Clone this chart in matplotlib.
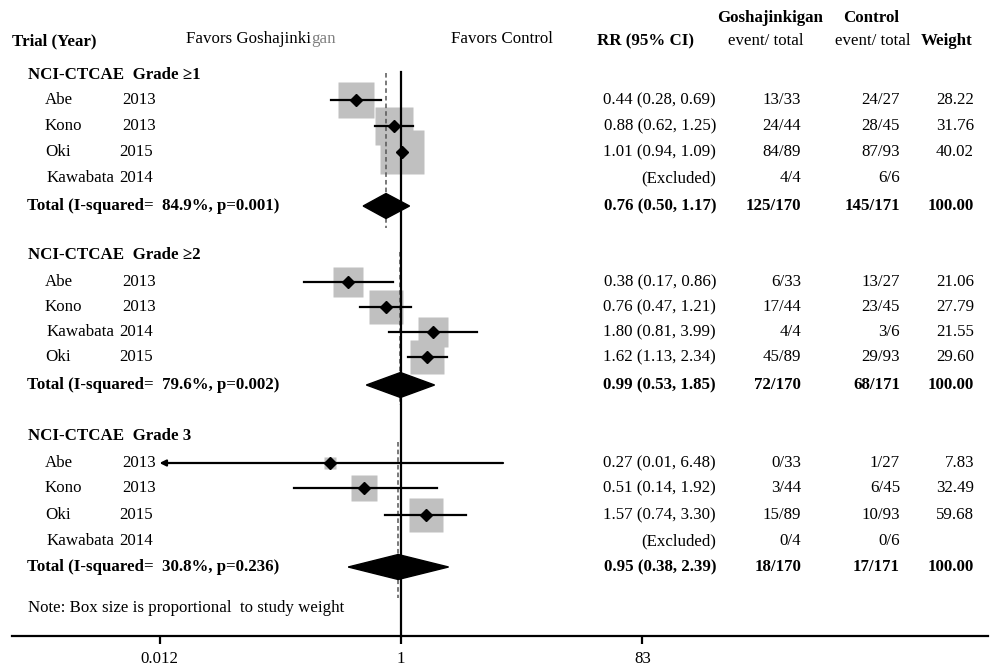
import numpy as np
import matplotlib
matplotlib.use("Agg")
import matplotlib.pyplot as plt
from matplotlib.patches import Polygon
from matplotlib.ticker import FixedLocator, NullLocator, FixedFormatter
from matplotlib.transforms import blended_transform_factory

plt.rcParams['font.family'] = ['Liberation Serif', 'DejaVu Serif']

# ---------------- data ----------------
group_titles = ['NCI-CTCAE  Grade \u22651', 'NCI-CTCAE  Grade \u22652', 'NCI-CTCAE  Grade 3']

g1_names = ['Abe', 'Kono', 'Oki', 'Kawabata']
g1_years = ['2013', '2013', '2015', '2014']
g1_rr = [0.44, 0.88, 1.01, np.nan]
g1_lo = [0.28, 0.62, 0.94, np.nan]
g1_hi = [0.69, 1.25, 1.09, np.nan]
g1_gosha = ['13/33', '24/44', '84/89', '4/4']
g1_ctrl = ['24/27', '28/45', '87/93', '6/6']
g1_weight = [28.22, 31.76, 40.02, np.nan]
g1_total = [0.76, 0.50, 1.17]
g1_total_counts = ['125/170', '145/171']
g1_het = ['84.9%', '0.001']

g2_names = ['Abe', 'Kono', 'Kawabata', 'Oki']
g2_years = ['2013', '2013', '2014', '2015']
g2_rr = [0.38, 0.76, 1.80, 1.62]
g2_lo = [0.17, 0.47, 0.81, 1.13]
g2_hi = [0.86, 1.21, 3.99, 2.34]
g2_gosha = ['6/33', '17/44', '4/4', '45/89']
g2_ctrl = ['13/27', '23/45', '3/6', '29/93']
g2_weight = [21.06, 27.79, 21.55, 29.60]
g2_total = [0.99, 0.53, 1.85]
g2_total_counts = ['72/170', '68/171']
g2_het = ['79.6%', '0.002']

g3_names = ['Abe', 'Kono', 'Oki', 'Kawabata']
g3_years = ['2013', '2013', '2015', '2014']
g3_rr = [0.27, 0.51, 1.57, np.nan]
g3_lo = [0.01, 0.14, 0.74, np.nan]
g3_hi = [6.48, 1.92, 3.30, np.nan]
g3_gosha = ['0/33', '3/44', '15/89', '0/4']
g3_ctrl = ['1/27', '6/45', '10/93', '0/6']
g3_weight = [7.83, 32.49, 59.68, np.nan]
g3_total = [0.95, 0.38, 2.39]
g3_total_counts = ['18/170', '17/171']
g3_het = ['30.8%', '0.236']

axis_ticks = [0.012, 1, 83]
axis_labels = ['0.012', '1', '83']

groups = [
    (g1_names, g1_years, g1_rr, g1_lo, g1_hi, g1_gosha, g1_ctrl, g1_weight, g1_total, g1_total_counts, g1_het),
    (g2_names, g2_years, g2_rr, g2_lo, g2_hi, g2_gosha, g2_ctrl, g2_weight, g2_total, g2_total_counts, g2_het),
    (g3_names, g3_years, g3_rr, g3_lo, g3_hi, g3_gosha, g3_ctrl, g3_weight, g3_total, g3_total_counts, g3_het),
]

# ---------------- layout (pixels) ----------------
W, H = 991, 668
K = 54.6          # pixels per natural-log unit
X1 = 401          # pixel position of RR = 1
group_header_y = [75, 255, 436]
study_y = [[100, 126, 152, 178], [282, 307, 332, 357], [463, 488, 515, 541]]
total_y = [206, 385, 567]
dash_span = [(73, 228), (252, 405), (442, 598)]
box_k = [6.9, 6.4, 4.4]
name_x = {'Abe': (45, 122), 'Kono': (45, 122), 'Oki': (45, 119), 'Kawabata': (47, 119)}
AXIS_Y = 636
FS = 12.2

fig = plt.figure(figsize=(W / 100, H / 100), dpi=100)
ax = fig.add_axes([0, 0, 1, 1])
ax.set_xscale('log')
ax.set_xlim(np.exp(-X1 / K), np.exp((W - X1) / K))
ax.set_ylim(H, 0)
for s in ['top', 'left', 'right']:
    ax.spines[s].set_visible(False)
ax.yaxis.set_visible(False)
ax.patch.set_visible(False)

# bottom axis
ax.spines['bottom'].set_position(('data', AXIS_Y))
ax.spines['bottom'].set_linewidth(1.6)
ax.spines['bottom'].set_bounds(np.exp((12 - X1) / K), np.exp((988 - X1) / K))
ax.xaxis.set_major_locator(FixedLocator(axis_ticks))
ax.xaxis.set_major_formatter(FixedFormatter(axis_labels))
ax.xaxis.set_minor_locator(NullLocator())
ax.tick_params(axis='x', direction='out', length=6, width=1.6, labelsize=FS, pad=5)

tx = blended_transform_factory(ax.transAxes, ax.transData)


def text(xpx, y, s, bold=False, ha='left', size=FS, color='black'):
    return ax.text(xpx / W, y, s, transform=tx, ha=ha, va='center', fontsize=size,
                   fontweight='bold' if bold else 'normal', color=color)


# headers
text(12, 41, 'Trial (Year)', bold=True)
t = text(186, 39, 'Favors Goshajinki')
fig.canvas.draw()
bb = t.get_window_extent(renderer=fig.canvas.get_renderer())
ax.text(bb.x1 / W, 39, 'gan', transform=tx, ha='left', va='center', fontsize=FS, color='#808080')
text(451, 39, 'Favors Control')
text(597, 41, 'RR (95% CI)', bold=True)
text(770, 18, 'Goshajinkigan', bold=True, ha='center')
text(766, 41, 'event/ total', ha='center')
text(871, 18, 'Control', bold=True, ha='center')
text(873, 41, 'event/ total', ha='center')
text(947, 41, 'Weight', bold=True, ha='center')

# reference line at 1
ax.plot([1, 1], [72, AXIS_Y], color='black', lw=1.6, zorder=4)

for gi, (names, years, rr, lo, hi, gosha, ctrl, wt, tot, tcounts, het) in enumerate(groups):
    text(28, group_header_y[gi], group_titles[gi], bold=True)
    # dashed overall line
    ax.plot([tot[0], tot[0]], dash_span[gi], color='#555555', lw=1.1, ls=(0, (3, 2)), zorder=3)
    for i in range(len(names)):
        y = study_y[gi][i]
        nx, yx = name_x[names[i]]
        text(nx, y, names[i])
        text(yx, y, years[i])
        text(801, y, gosha[i], ha='right')
        text(900, y, ctrl[i], ha='right')
        if np.isnan(rr[i]):
            text(716, y, '(Excluded)', ha='right')
            continue
        text(716, y, f'{rr[i]:.2f} ({lo[i]:.2f}, {hi[i]:.2f})', ha='right')
        text(974, y, f'{wt[i]:.2f}', ha='right')
        side = box_k[gi] * np.sqrt(wt[i]) * 0.72
        ax.plot([rr[i]], [y], marker='s', ms=side, color='#c0c0c0', mec='none', zorder=2)
        if lo[i] < axis_ticks[0]:
            ax.annotate('', xy=(axis_ticks[0], y), xytext=(hi[i], y),
                        arrowprops=dict(arrowstyle='-|>', lw=1.6, color='black',
                                        mutation_scale=9, shrinkA=0, shrinkB=0), zorder=5)
        else:
            ax.plot([lo[i], hi[i]], [y, y], color='black', lw=1.6, zorder=5)
        ax.plot([rr[i]], [y], marker='D', ms=6.5, color='black', zorder=6)
    # total
    y = total_y[gi]
    text(27, y, f'Total (I-squared=  {het[0]}, p={het[1]})', bold=True)
    text(716, y, f'{tot[0]:.2f} ({tot[1]:.2f}, {tot[2]:.2f})', bold=True, ha='right')
    text(801, y, tcounts[0], bold=True, ha='right')
    text(900, y, tcounts[1], bold=True, ha='right')
    text(974, y, '100.00', bold=True, ha='right')
    h = 12.5
    ax.add_patch(Polygon([(tot[1], y), (tot[0], y - h), (tot[2], y), (tot[0], y + h)],
                         closed=True, color='black', zorder=7))

text(28, 608, 'Note: Box size is proportional  to study weight', size=FS)

fig.savefig('out.png', dpi=100)
